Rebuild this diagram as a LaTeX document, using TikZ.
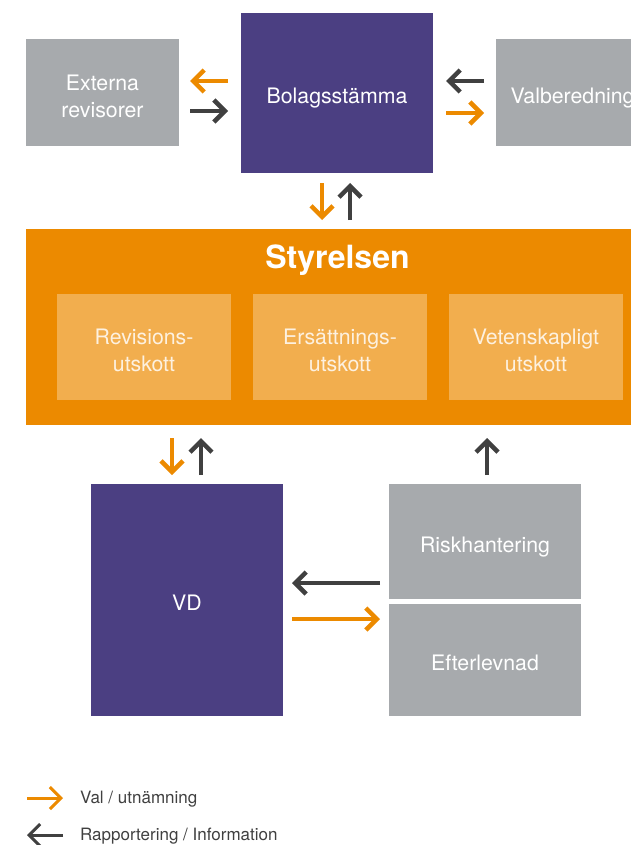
\documentclass[tikz,border=0pt]{standalone}
\usepackage{fontspec}
\setmainfont{TeX Gyre Heros}
\usetikzlibrary{arrows.meta,positioning}

\definecolor{lila}{RGB}{75,63,130}
\definecolor{gra}{RGB}{167,170,173}
\definecolor{valorange}{RGB}{236,138,0}
\definecolor{ljusorange}{RGB}{242,174,78}
\definecolor{ljustext}{RGB}{253,241,224}
\definecolor{mork}{RGB}{64,64,64}

\begin{document}
\begin{tikzpicture}[x=1pt,y=-1pt,>={Straight Barb[length=11pt,width=22pt]},
    ruta/.style={inner sep=0pt,outer sep=0pt,align=center,text=white,text height=21pt,text depth=0pt,
      minimum width=192pt,font=\fontsize{21.3}{26.6}\selectfont},
    tvarad/.style={text height=48.5pt,text depth=0pt},
    utskott/.style={ruta,tvarad,fill=ljusorange,text=ljustext,minimum width=174pt,minimum height=106pt},
    val/.style={->,draw=valorange,line width=4.5pt},
    rapp/.style={->,draw=mork,line width=4.5pt},
    legend/.style={anchor=west,inner sep=0pt,font=\fontsize{17}{20}\selectfont,text=mork}]

    \useasboundingbox (0,0) rectangle (630,845);

    \node[ruta,fill=lila,minimum height=160pt] (bol) at (337,93) {Bolagsstämma};
    \node[ruta,tvarad,fill=gra,minimum width=153pt,minimum height=107pt] (ext) at (102.5,93) {Externa\\revisorer};
    \node[ruta,fill=gra,minimum width=153pt,minimum height=107pt] (valb) at (572.5,93) {Valberedning};

    \node[ruta,fill=valorange,minimum width=628pt,minimum height=196pt] (sty) at (340,327) {};
    \node[ruta,font=\fontsize{32}{36}\selectfont\bfseries,text height=22pt] (titel) at (337.5,257) {Styrelsen};
    \node[utskott] (rev) at (144,347) {Revisions-\\utskott};
    \node[utskott,right=22pt of rev] (ers) {Ersättnings-\\utskott};
    \node[utskott,right=22pt of ers] (vet) {Vetenskapligt\\utskott};

    \node[ruta,fill=lila,minimum height=232pt] (vd) at (187,600) {VD};
    \node[ruta,fill=gra,minimum height=115pt] (risk) at (485,541.5) {Riskhantering};
    \node[ruta,fill=gra,minimum height=112pt,below=5pt of risk] (eft) {Efterlevnad};

    \draw[val,shorten <=13pt,shorten >=11pt] ([yshift=12pt]bol.west) -- ([yshift=12pt]ext.east);
    \draw[rapp,shorten <=11pt,shorten >=13pt] ([yshift=-18pt]ext.east) -- ([yshift=-18pt]bol.west);
    \draw[rapp,shorten <=12pt,shorten >=13pt] ([yshift=12pt]valb.west) -- ([yshift=12pt]bol.east);
    \draw[val,shorten <=13pt,shorten >=12pt] ([yshift=-20pt]bol.east) -- ([yshift=-20pt]valb.west);

    \draw[val,shorten <=10pt,shorten >=9pt] ([xshift=-15pt]bol.south) -- ([xshift=-18pt]sty.north);
    \draw[rapp,shorten <=9pt,shorten >=10pt] ([xshift=10pt]sty.north) -- ([xshift=13pt]bol.south);

    \draw[val,shorten <=13pt,shorten >=9pt] ([xshift=-168pt]sty.south) -- ([xshift=-15pt]vd.north);
    \draw[rapp,shorten <=9pt,shorten >=13pt] ([xshift=14pt]vd.north) -- ([xshift=-139pt]sty.south);
    \draw[rapp,shorten <=9pt,shorten >=13pt] ([xshift=2pt]risk.north) -- ([xshift=147pt]sty.south);

    \draw[rapp,shorten <=9pt,shorten >=9pt] ([yshift=-41.5pt]risk.west) -- ([yshift=17pt]vd.east);
    \draw[val,shorten <=9pt,shorten >=9pt] ([yshift=-19pt]vd.east) -- ([yshift=41pt]eft.west);

    \node[legend] (valtext) at (80,799) {Val / utnämning};
    \node[legend] (rapptext) at (80,836) {Rapportering / Information};
    \coordinate (valstart) at (27,798);
    \coordinate (rappslut) at (27,835);
    \draw[val,line width=3pt,shorten >=17pt] (valstart) -- (valstart -| valtext.west);
    \draw[rapp,line width=3pt,shorten <=17pt] (rappslut -| rapptext.west) -- (rappslut);

\end{tikzpicture}
\end{document}
